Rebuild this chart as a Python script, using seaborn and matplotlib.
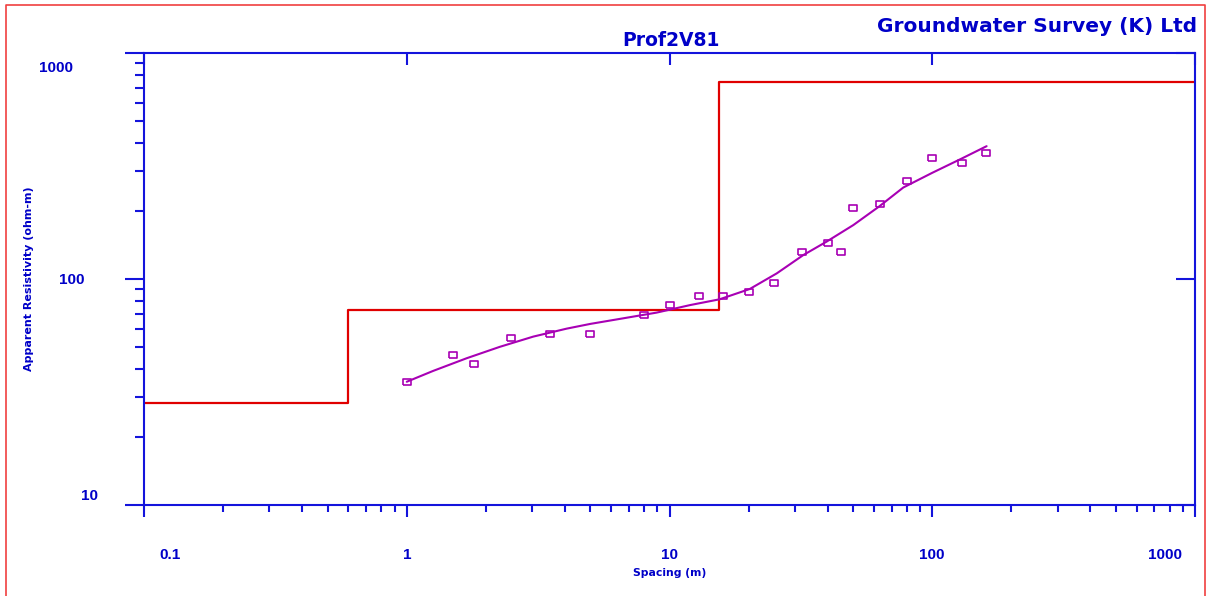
import numpy as np
import matplotlib
matplotlib.use('Agg')
import matplotlib.pyplot as plt
import matplotlib.transforms as mtransforms
from matplotlib.lines import Line2D
from matplotlib.ticker import LogLocator, NullFormatter, FixedLocator, NullLocator
import seaborn as sns

# ---------------- data ----------------
# Observed apparent resistivity (squares)
spacing = [1, 1.5, 1.8, 2.5, 3.5, 5, 8, 10, 13, 16, 20, 25, 32, 40, 45, 50, 63, 80, 100, 130, 160]
rho_obs = [35, 46, 42, 55, 57, 57, 69, 77, 84, 84, 88, 96, 131, 144, 132, 206, 214, 272, 342, 326, 361]

# Model response curve (purple line)
curve_spacing = [1.0, 1.26, 1.69, 2.26, 3.03, 4.06, 5.0, 6.67, 8.93, 12.0, 15.5, 20.2,
                 25.6, 32.3, 39.6, 50.1, 63, 77.6, 100, 130, 161]
curve_rho = [35.1, 39.2, 44.6, 50.1, 55.6, 60.3, 63.3, 67.0, 71.0, 76.7, 81.3, 90.3,
             105.9, 127.6, 146.3, 173.3, 210, 254, 295, 342, 387]

# Layered model (red step line)
layer_depth = [0.1, 0.6, 15.4, 1000]
layer_rho = [28.3, 72.9, 745, 745]

x_ticks = [0.1, 1, 10, 100, 1000]
x_labels = ['0.1', '1', '10', '100', '1000']
y_ticks = [10, 100, 1000]
y_labels = ['10', '100', '1000']

title = 'Prof2V81'
company = 'Groundwater Survey (K) Ltd'
xlabel = 'Spacing (m)'
ylabel = 'Apparent Resistivity (ohm-m)'

# ---------------- style ----------------
BLUE = '#1414DC'
TEXT_BLUE = '#0000C8'
RED = '#E00000'
PURPLE = '#A800B4'
BORDER = '#F04040'

sns.set_style('white')
plt.rcParams['font.family'] = ['Liberation Sans', 'DejaVu Sans']

W, H = 1209, 596
fig = plt.figure(figsize=(W / 100, H / 100), dpi=100)
ax = fig.add_axes([144 / W, (H - 505) / H, (1195 - 144) / W, (505 - 53) / H])
ax.set_xscale('log')
ax.set_yscale('log')

sns.lineplot(x=layer_depth, y=layer_rho, ax=ax, color=RED, lw=1.6,
             drawstyle='steps-post', sort=False, estimator=None)
sns.lineplot(x=curve_spacing, y=curve_rho, ax=ax, color=PURPLE, lw=1.5,
             sort=False, estimator=None)
rect = [(-1.6, -1), (1.6, -1), (1.6, 1), (-1.6, 1), (-1.6, -1)]
sns.lineplot(x=spacing, y=rho_obs, ax=ax, linestyle='', marker=rect,
             markersize=6.2, markerfacecolor='none', markeredgecolor=PURPLE,
             markeredgewidth=1.2, sort=False, estimator=None, color=PURPLE)

ax.set_xlim(0.1, 1000)
ax.set_ylim(10, 1000)

for s in ax.spines.values():
    s.set_color(BLUE)
    s.set_linewidth(1.5)

px = 0.72  # points per pixel
ax.xaxis.set_major_locator(FixedLocator(x_ticks))
ax.xaxis.set_minor_locator(LogLocator(base=10, subs=np.arange(2, 10)))
ax.xaxis.set_minor_formatter(NullFormatter())
ax.set_xticklabels(x_labels)
ax.yaxis.set_major_locator(FixedLocator(y_ticks))
ax.yaxis.set_minor_locator(LogLocator(base=10, subs=np.arange(2, 10)))
ax.yaxis.set_minor_formatter(NullFormatter())
ax.set_yticklabels(y_labels)

ax.tick_params(axis='both', which='both', bottom=True, left=True, top=False, right=False)
ax.tick_params(axis='x', which='major', direction='out', length=12 * px, width=1.5,
               color=BLUE, labelcolor=TEXT_BLUE, labelsize=11, pad=31 * px)
ax.tick_params(axis='x', which='minor', direction='out', length=7 * px, width=1.5, color=BLUE)
ax.tick_params(axis='y', which='major', direction='out', length=19 * px, width=1.5,
               color=BLUE, labelcolor=TEXT_BLUE, labelsize=11, pad=40 * px)
ax.tick_params(axis='y', which='minor', direction='out', length=9 * px, width=1.5, color=BLUE)
for lab in ax.get_xticklabels() + ax.get_yticklabels():
    lab.set_fontweight('bold')

def shift(label, dx, dy):
    label.set_transform(label.get_transform() +
                        mtransforms.ScaledTranslation(dx / 100, dy / 100, fig.dpi_scale_trans))

xl = ax.get_xticklabels()
shift(xl[0], 26, 0)
shift(xl[-1], -30, 0)
yl = ax.get_yticklabels()
shift(yl[0], 13, 10)
shift(yl[-1], -12, -13)

# top and right inward ticks
secx = ax.secondary_xaxis('top')
secx.xaxis.set_major_locator(FixedLocator(x_ticks))
secx.xaxis.set_minor_locator(NullLocator())
secx.tick_params(axis='x', which='major', direction='in', length=12 * px, width=1.5,
                 color=BLUE, labeltop=False)
for s in secx.spines.values():
    s.set_visible(False)
secy = ax.secondary_yaxis('right')
secy.yaxis.set_major_locator(FixedLocator(y_ticks))
secy.yaxis.set_minor_locator(NullLocator())
secy.tick_params(axis='y', which='major', direction='in', length=19 * px, width=1.5,
                 color=BLUE, labelright=False)
for s in secy.spines.values():
    s.set_visible(False)

ax.set_xlabel(xlabel, fontsize=7.8, fontweight='bold', color=TEXT_BLUE, family='DejaVu Sans')
ax.xaxis.set_label_coords(0.5, (505 - 568) / 452)
ax.set_ylabel(ylabel, fontsize=8, fontweight='bold', color=TEXT_BLUE, family='DejaVu Sans')
ax.yaxis.set_label_coords((34 - 144) / 1051, 0.5)

fig.text(671 / W, 1 - 40 / H, title, ha='center', va='center', fontsize=13.5,
         fontweight='bold', color=TEXT_BLUE, family='DejaVu Sans')
fig.text(1197 / W, 1 - 27 / H, company, ha='right', va='center', fontsize=14.5,
         fontweight='bold', color=TEXT_BLUE, family='DejaVu Sans')

# red page border (left, top, right)
fig.add_artist(Line2D([6 / W, 6 / W, 1205 / W, 1205 / W], [0, 1 - 5 / H, 1 - 5 / H, 0],
                      transform=fig.transFigure, color=BORDER, lw=1.2))

fig.savefig('out.png', dpi=100)
